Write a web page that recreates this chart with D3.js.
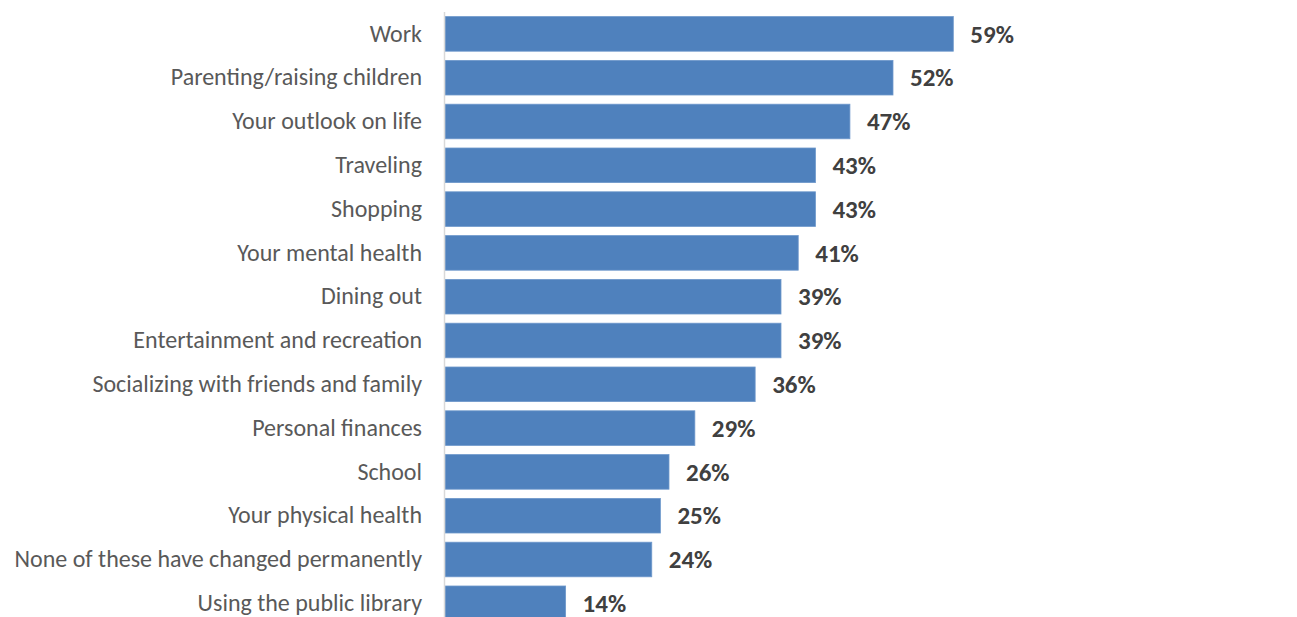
<!DOCTYPE html>
<html>
<head>
<meta charset="utf-8">
<script src="https://cdn.jsdelivr.net/npm/d3@7"></script>
<style>
  html, body { margin: 0; padding: 0; background: #ffffff; }
  svg { display: block; }
</style>
</head>
<body>
<svg id="chart" width="1297" height="617"></svg>
<script>
// Share of respondents saying each area has changed permanently
const categories = [
  "Work",
  "Parenting/raising children",
  "Your outlook on life",
  "Traveling",
  "Shopping",
  "Your mental health",
  "Dining out",
  "Entertainment and recreation",
  "Socializing with friends and family",
  "Personal finances",
  "School",
  "Your physical health",
  "None of these have changed permanently",
  "Using the public library"
];
const values = [59, 52, 47, 43, 43, 41, 39, 39, 36, 29, 26, 25, 24, 14];

const svg = d3.select("#chart");
const fontFamily = "Carlito, Calibri, Lato, 'Open Sans', sans-serif";

const x = d3.scaleLinear().domain([0, 59]).range([445, 953.3]);
const y = d3.scaleBand()
  .domain(categories)
  .range([12, 12 + 43.8 * categories.length])
  .paddingInner(0.21)
  .paddingOuter(0.105);

// Bars
svg.append("g")
  .selectAll("rect")
  .data(values)
  .join("rect")
  .attr("x", x(0))
  .attr("y", (d, i) => y(categories[i]))
  .attr("width", d => x(d) - x(0))
  .attr("height", y.bandwidth())
  .attr("fill", "#4f81bd")
  .attr("stroke", "#6e98cb")
  .attr("stroke-width", 0.8);

// Category axis
const yAxis = d3.axisLeft(y).tickSize(0).tickPadding(22);
const gy = svg.append("g")
  .attr("transform", `translate(${x(0) - 1},0)`)
  .call(yAxis);
gy.select(".domain")
  .attr("stroke", "#d9d9d9")
  .attr("stroke-width", 1.5)
  .attr("d", `M0.5,12V617`);
gy.selectAll("text")
  .attr("font-family", fontFamily)
  .attr("font-size", 24)
  .attr("fill", "#595959");

// Value labels
svg.append("g")
  .selectAll("text")
  .data(values)
  .join("text")
  .attr("x", d => x(d) + 17)
  .attr("y", (d, i) => y(categories[i]) + y.bandwidth() / 2)
  .attr("dy", "0.35em")
  .attr("font-family", fontFamily)
  .attr("font-size", 25)
  .attr("font-weight", "bold")
  .attr("fill", "#404040")
  .text(d => d + "%");
</script>
</body>
</html>
